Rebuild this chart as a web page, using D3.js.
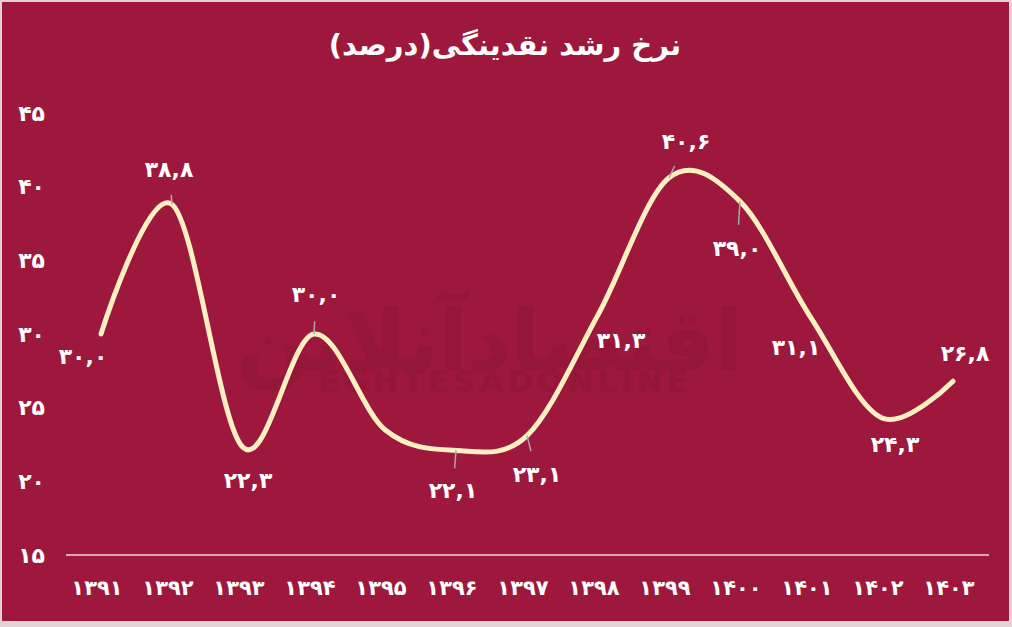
<!DOCTYPE html>
<html><head><meta charset="utf-8">
<script src="https://cdn.jsdelivr.net/npm/d3@7/dist/d3.min.js"></script>
<style>
html,body{margin:0;padding:0;background:#fff;}
svg{display:block;}
text{font-family:"DejaVu Sans","Noto Sans",sans-serif;}
</style></head>
<body><svg id="c" width="1012" height="627"></svg>
<script>
const years = ["1391","1392","1393","1394","1395","1396","1397","1398","1399","1400","1401","1402","1403"];
const growth = [30.0,38.8,22.3,30.0,23.5,22.1,23.1,31.3,40.6,39.0,31.1,24.3,26.8];
const valueLabels = ["30,0","38,8","22,3","30,0","","22,1","23,1","31,3","40,6","39,0","31,1","24,3","26,8"];
const yTicks = [15,20,25,30,35,40,45];
const title = "نرخ رشد نقدینگی(درصد)";

// layout (label offsets from point, leader fraction)
const labelDx = [-18,-3,5,2,0,-3,10,23,17,-3,-15,13,12];
const labelDy = [22,-35,33,-40,0,40,39,26,-36,47,30,27,-28];
const leader = [0,0.27,0,0.32,0,0.45,0.4,0,0.33,0.5,0,0,0];

const fa = s => String(s).replace(/[0-9]/g, d => "۰۱۲۳۴۵۶۷۸۹"[+d]);

const W = 1012, H = 627;
const svg = d3.select("#c");
svg.append("rect").attr("width",W).attr("height",H).attr("fill","#e3d3d6");
svg.append("rect").attr("x",2).attr("y",2).attr("width",W-5).attr("height",H-8).attr("fill","#9d183c");

// watermark
const wm = svg.append("g").attr("fill","#8c1536").attr("opacity",0.5);
wm.append("text").attr("x",490).attr("y",370).attr("text-anchor","middle")
  .attr("font-size",84).attr("font-weight","bold").text("اقتصادآنلاین");
wm.append("text").attr("x",505).attr("y",392).attr("text-anchor","middle")
  .attr("font-size",31).attr("font-weight","bold").attr("letter-spacing",4).text("EGHTESADONLINE");

const x = d3.scalePoint().domain(years).range([101,953]);
const y = d3.scaleLinear().domain([15,45]).range([555,113]);

// title
svg.append("text").attr("x",505).attr("y",55).attr("text-anchor","middle")
  .attr("fill","#fff").attr("font-size",29).attr("font-weight","bold").text(title);

// x axis baseline
svg.append("line").attr("x1",66).attr("x2",989).attr("y1",y(15)).attr("y2",y(15))
  .attr("stroke","#f3d6dd").attr("stroke-width",1.6);

// y tick labels
svg.append("g").selectAll("text").data(yTicks).join("text")
  .attr("x",45).attr("y",d=>y(d)).attr("text-anchor","end").attr("dominant-baseline","central")
  .attr("fill","#fff").attr("font-size",22).attr("font-weight","bold").text(d=>fa(d));

// x tick labels
svg.append("g").selectAll("text").data(years).join("text")
  .attr("x",d=>x(d)-4).attr("y",588).attr("text-anchor","middle").attr("dominant-baseline","central")
  .attr("fill","#fff").attr("font-size",21).attr("font-weight","bold").attr("letter-spacing",-1.5).text(d=>fa(d));

// line
const pts = years.map((d,i)=>[x(d), y(growth[i])]);
const line = d3.line().curve(d3.curveCardinal.tension(0));
svg.append("path").attr("d",line(pts)).attr("fill","none")
  .attr("stroke","#fdf0c0").attr("stroke-width",5).attr("stroke-linecap","round");

// leader lines
svg.append("g").selectAll("line").data(pts.map((p,i)=>({p,i})).filter(o=>leader[o.i]>0)).join("line")
  .attr("x1",o=>o.p[0]).attr("y1",o=>o.p[1])
  .attr("x2",o=>o.p[0]+labelDx[o.i]*leader[o.i]).attr("y2",o=>o.p[1]+labelDy[o.i]*leader[o.i])
  .attr("stroke","#a8a8a8").attr("stroke-width",1.5);

// value labels
svg.append("g").selectAll("text").data(pts.map((p,i)=>({p,i})).filter(o=>valueLabels[o.i])).join("text")
  .attr("x",o=>o.p[0]+labelDx[o.i]).attr("y",o=>o.p[1]+labelDy[o.i])
  .attr("text-anchor","middle").attr("dominant-baseline","central")
  .attr("fill","#fff").attr("font-size",22).attr("font-weight","bold").text(o=>fa(valueLabels[o.i]));
</script></body></html>
